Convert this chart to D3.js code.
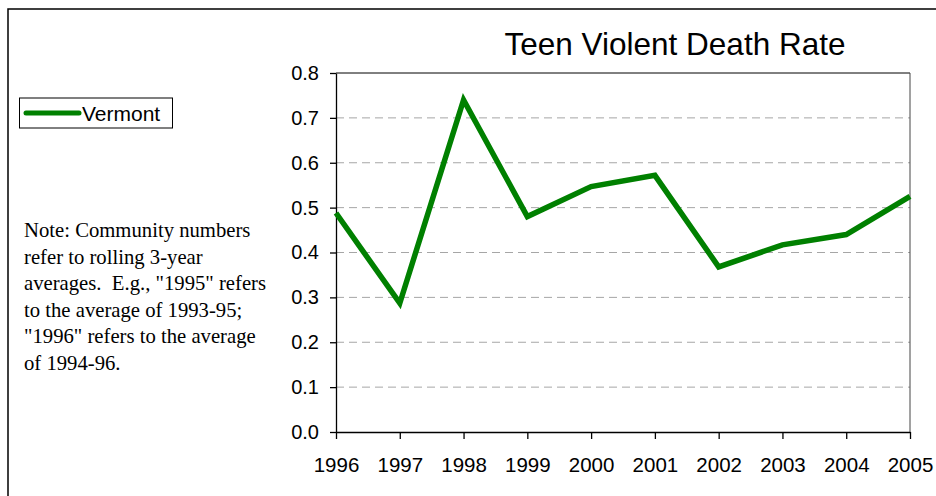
<!DOCTYPE html>
<html>
<head>
<meta charset="utf-8">
<script src="https://cdn.jsdelivr.net/npm/d3@7"></script>
<style>
html,body{margin:0;padding:0;background:#fff;}
svg{display:block;}
</style>
</head>
<body>
<svg id="chart" width="936" height="496"></svg>
<script>
const years = ["1996","1997","1998","1999","2000","2001","2002","2003","2004","2005"];
const vermont = [0.488, 0.287, 0.740, 0.480, 0.547, 0.572, 0.368, 0.417, 0.440, 0.525];
const yTicks = [0.0, 0.1, 0.2, 0.3, 0.4, 0.5, 0.6, 0.7, 0.8];
const titleText = "Teen Violent Death Rate";
const seriesName = "Vermont";
const noteLines = [
  "Note: Community numbers",
  "refer to rolling 3-year",
  "averages.  E.g., \"1995\" refers",
  "to the average of 1993-95;",
  "\"1996\" refers to the average",
  "of 1994-96."
];

(function () {
const svg = d3.select("#chart");
const sans = "Arial, 'Liberation Sans', sans-serif";
const serif = "'Times New Roman', 'Liberation Serif', serif";

// outer frame
svg.append("rect").attr("x", 8).attr("y", 9).attr("width", 940).attr("height", 500)
  .attr("fill", "#fff").attr("stroke", "#000").attr("stroke-width", 1.5);

const pLeft = 336, pRight = 910, pTop = 73, pBottom = 432;
const x = d3.scalePoint().domain(years).range([pLeft, pRight]);
const y = d3.scaleLinear().domain([0, 0.8]).range([pBottom, pTop]);

// gridlines
svg.append("g").selectAll("line").data(yTicks.filter(d => d > 0 && d < 0.8)).join("line")
  .attr("x1", pLeft).attr("x2", pRight)
  .attr("y1", d => y(d)).attr("y2", d => y(d))
  .attr("stroke", "#a6a6a6").attr("stroke-width", 1).attr("stroke-dasharray", "8,5");

// plot frame top & right
svg.append("line").attr("x1", pLeft).attr("x2", pRight).attr("y1", pTop).attr("y2", pTop)
  .attr("stroke", "#000").attr("stroke-width", 1);
svg.append("line").attr("x1", pRight).attr("x2", pRight).attr("y1", pTop).attr("y2", pBottom)
  .attr("stroke", "#444").attr("stroke-width", 1);

// y axis
const yAxis = svg.append("g").attr("transform", `translate(${pLeft},0)`)
  .call(d3.axisLeft(y).tickValues(yTicks).tickFormat(d3.format(".1f")).tickSizeInner(6).tickSizeOuter(0).tickPadding(11));
yAxis.selectAll("text").attr("font-family", sans).attr("font-size", 20).attr("fill", "#000");
yAxis.selectAll("line,path").attr("stroke", "#000").attr("stroke-width", 1.3);

// x axis
const xAxis = svg.append("g").attr("transform", `translate(0,${pBottom})`)
  .call(d3.axisBottom(x).tickSizeInner(7).tickSizeOuter(0).tickPadding(18));
xAxis.selectAll("text").attr("font-family", sans).attr("font-size", 20.5).attr("fill", "#000");
xAxis.selectAll("line,path").attr("stroke", "#000").attr("stroke-width", 1.3);

// series line
const line = d3.line().x((d, i) => x(years[i])).y(d => y(d));
svg.append("path").datum(vermont).attr("d", line)
  .attr("fill", "none").attr("stroke", "#008000").attr("stroke-width", 5.5)
  .attr("stroke-linejoin", "miter");

// title
svg.append("text").attr("x", 675).attr("y", 55).attr("text-anchor", "middle")
  .attr("font-family", sans).attr("font-size", 31.5).attr("fill", "#000").text(titleText);

// legend
const lg = svg.append("g");
lg.append("rect").attr("x", 19.5).attr("y", 98).attr("width", 153).attr("height", 30)
  .attr("fill", "#fff").attr("stroke", "#000").attr("stroke-width", 1);
lg.append("line").attr("x1", 26).attr("x2", 79).attr("y1", 113).attr("y2", 113)
  .attr("stroke", "#008000").attr("stroke-width", 5).attr("stroke-linecap", "round");
lg.append("text").attr("x", 82).attr("y", 121).attr("font-family", sans).attr("font-size", 21)
  .attr("fill", "#000").text(seriesName);

// note
svg.append("g").selectAll("text").data(noteLines).join("text")
  .attr("x", 24).attr("y", (d, i) => 237 + i * 26.6)
  .attr("font-family", serif).attr("font-size", 20.7).attr("fill", "#000")
  .style("white-space", "pre")
  .text(d => d);
})();
</script>
</body>
</html>
